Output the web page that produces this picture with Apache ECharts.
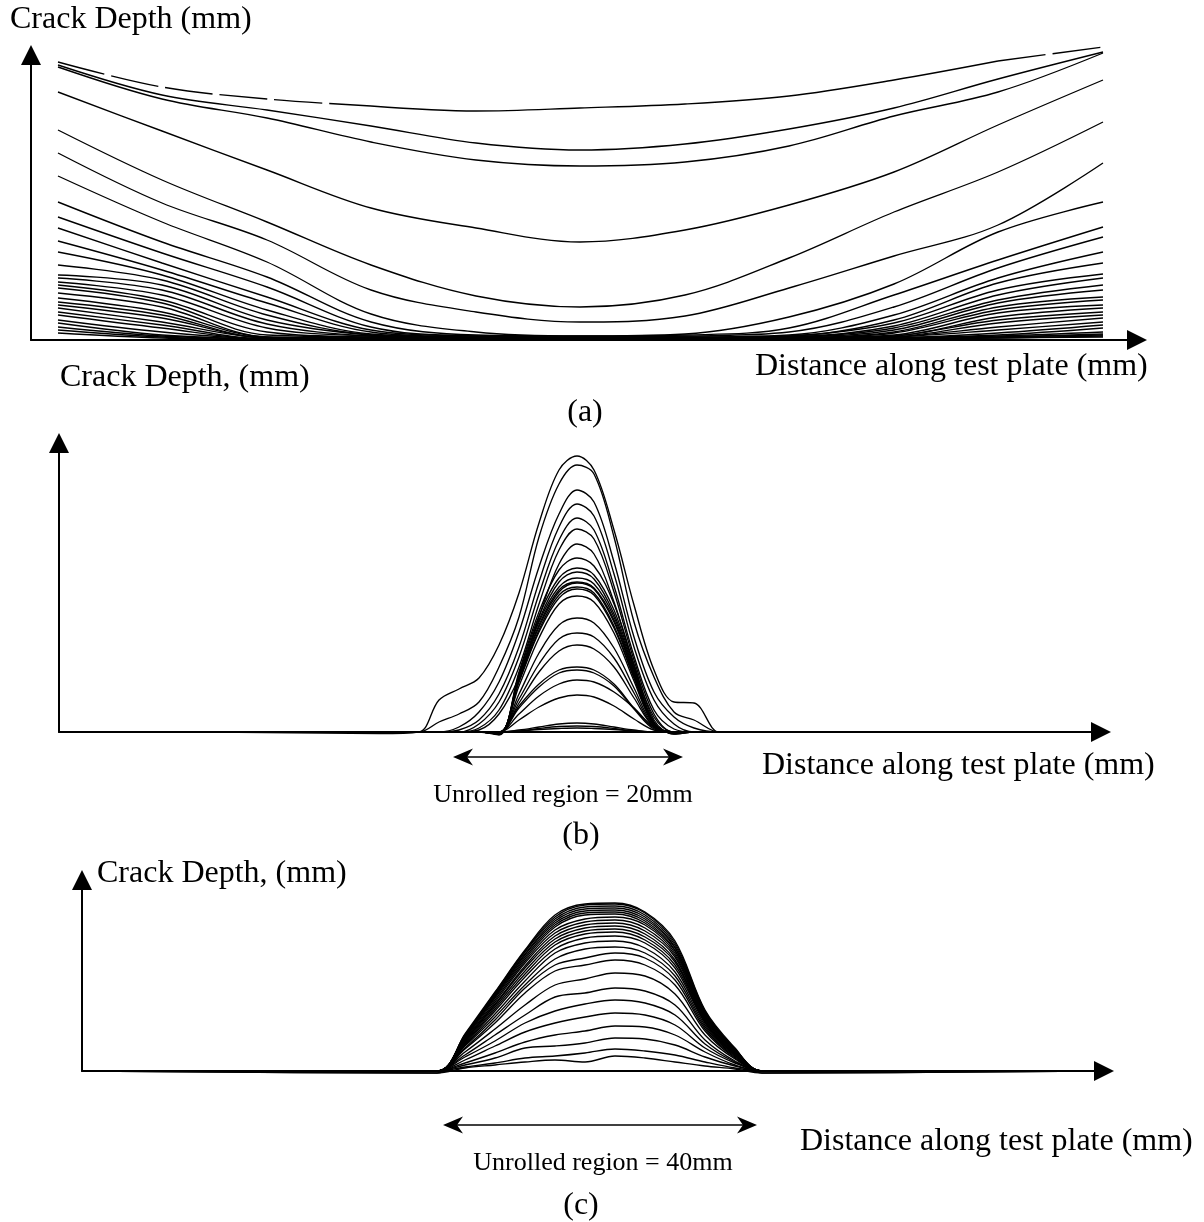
<!DOCTYPE html>
<html><head><meta charset="utf-8">
<script src="https://cdn.jsdelivr.net/npm/echarts@6/dist/echarts.min.js"></script>
<style>html,body{margin:0;padding:0;background:#fff}#c{width:1204px;height:1222px}</style>
</head><body><div id="c"></div>
<script>
// ---------- Panel (a): distance (mm) samples and crack-depth curves ----------
const xA = [2.7, 13.1, 23.6, 34.0, 44.5, 54.9, 65.4, 75.8, 86.3, 96.7, 107.2];
const curvesA = [
  [27.8, 25.3, 24.1, 23.4, 22.9, 23.2, 23.6, 24.4, 26.0, 27.9, 29.3],
  [27.5, 24.5, 23.0, 21.4, 19.7, 19.0, 19.6, 21.1, 23.2, 26.1, 28.8],
  [27.3, 24.1, 22.2, 19.8, 18.0, 17.4, 17.8, 19.4, 22.4, 24.8, 28.7],
  [24.8, 20.9, 17.0, 13.2, 11.2, 9.8, 11.0, 13.5, 16.8, 21.5, 26.0],
  [21.0, 16.0, 11.8, 7.5, 4.4, 3.3, 4.5, 8.2, 12.8, 16.8, 21.8],
  [18.7, 13.7, 10.0, 5.0, 2.8, 1.8, 2.4, 5.2, 8.4, 11.5, 17.7],
  [16.4, 11.8, 7.8, 2.6, 0.8, 0.4, 0.6, 2.3, 5.6, 10.8, 13.8],
  [13.8, 9.8, 6.3, 1.8, 0.5, 0.4, 0.5, 1.2, 4.5, 8.0, 11.3],
  [12.3, 8.7, 5.3, 1.3, 0.4, 0.3, 0.4, 0.8, 3.3, 7.2, 10.3],
  [11.2, 7.7, 4.3, 1.0, 0.4, 0.3, 0.3, 0.5, 2.5, 6.2, 8.8],
  [9.9, 7.0, 3.7, 0.8, 0.3, 0.2, 0.3, 0.4, 2.0, 5.7, 7.7],
  [8.8, 6.5, 3.0, 0.6, 0.3, 0.2, 0.2, 0.4, 1.7, 5.0, 6.6],
  [7.5, 6.0, 2.5, 0.5, 0.2, 0.2, 0.2, 0.3, 1.4, 4.5, 6.2],
  [6.5, 5.5, 2.0, 0.5, 0.2, 0.1, 0.2, 0.3, 1.2, 4.0, 5.5],
  [6.2, 5.0, 1.6, 0.4, 0.2, 0.1, 0.2, 0.3, 1.0, 3.7, 5.0],
  [5.8, 4.5, 1.2, 0.4, 0.2, 0.1, 0.1, 0.2, 0.8, 3.3, 4.3],
  [5.5, 4.0, 0.8, 0.3, 0.1, 0.1, 0.1, 0.2, 0.7, 3.0, 4.0],
  [5.2, 3.7, 0.5, 0.3, 0.1, 0.1, 0.1, 0.2, 0.5, 2.7, 3.5],
  [4.7, 3.3, 0.3, 0.2, 0.1, 0.1, 0.1, 0.2, 0.4, 2.3, 3.2],
  [4.2, 2.8, 0.3, 0.2, 0.1, 0.0, 0.1, 0.1, 0.4, 2.0, 2.8],
  [3.8, 2.5, 0.2, 0.2, 0.1, 0.0, 0.1, 0.1, 0.3, 1.7, 2.5],
  [3.5, 2.2, 0.2, 0.1, 0.1, 0.0, 0.0, 0.1, 0.3, 1.3, 2.2],
  [3.2, 1.8, 0.2, 0.1, 0.0, 0.0, 0.0, 0.1, 0.3, 1.0, 1.8],
  [2.8, 1.5, 0.1, 0.1, 0.0, 0.0, 0.0, 0.1, 0.2, 0.7, 1.5],
  [2.5, 1.2, 0.1, 0.1, 0.0, 0.0, 0.0, 0.1, 0.2, 0.5, 1.2],
  [2.0, 0.8, 0.1, 0.0, 0.0, 0.0, 0.0, 0.0, 0.2, 0.4, 0.8],
  [1.7, 0.5, 0.1, 0.0, 0.0, 0.0, 0.0, 0.0, 0.1, 0.3, 0.5],
  [1.3, 0.4, 0.1, 0.0, 0.0, 0.0, 0.0, 0.0, 0.1, 0.3, 0.6],
  [1.0, 0.3, 0.0, 0.0, 0.0, 0.0, 0.0, 0.0, 0.1, 0.2, 0.4],
  [0.7, 0.2, 0.0, 0.0, 0.0, 0.0, 0.0, 0.0, 0.1, 0.2, 0.3]
];

// ---------- Panel (b): unrolled region = 20 mm ----------
const xB = [0, 15, 32, 36, 38, 40, 42, 44, 46, 48, 50, 51.8, 53.5, 55.5, 57.5, 59.5, 61.5, 63.5, 66, 68, 85, 103];
const curvesB = [
  [0,0,-0.15,0,3.2,4.3,5.4,8.7,13.9,20.9,26.2,27.6,26.2,20.2,12.7,6.2,3.0,2.9,0,0,0,0],
  [0,0,0,0,1.0,1.8,3.0,6.5,11.5,19.5,24.8,26.7,25.8,19.5,11.0,5.5,2.0,1.2,0,0,0,0],
  [0,0,0,0,0,0.5,2.0,5.0,10.0,16.5,21.8,24.2,23.0,17.0,9.5,4.0,1.5,0.4,0,0,0,0],
  [0,0,0,0,0,0.2,1.2,3.8,8.5,15.0,20.5,22.8,21.6,15.8,8.5,3.2,0.8,0,0,0,0,0],
  [0,0,0,0,0,0,0.8,3.0,7.5,13.8,19.2,21.4,20.2,14.6,7.6,2.2,0.3,0,0,0,0,0],
  [0,0,0,0,0,0,0.4,2.2,6.5,12.8,18.2,20.3,19.3,14.0,7.2,1.8,0,0,0,0,0,0],
  [0,0,0,0,0,0,0.2,1.8,5.5,11.5,16.8,18.8,17.8,13.0,6.6,1.5,0,0,0,0,0,0],
  [0,0,0,0,0,0,0,-0.3,6.0,12.0,16.2,17.4,16.6,12.8,6.8,1.2,-0.2,0,0,0,0,0],
  [0,0,0,0,0,0,0,-0.2,5.8,11.6,15.4,16.4,15.7,12.2,6.4,1.0,-0.2,0,0,0,0,0],
  [0,0,0,0,0,0,0,-0.2,5.6,11.2,15.0,16.0,15.3,11.8,6.2,0.9,-0.1,0,0,0,0,0],
  [0,0,0,0,0,0,0,-0.2,5.5,11.0,14.5,15.4,14.8,11.5,6.0,0.9,-0.1,0,0,0,0,0],
  [0,0,0,0,0,0,0,-0.2,5.4,10.7,14.2,15.0,14.4,11.2,5.8,0.8,-0.1,0,0,0,0,0],
  [0,0,0,0,0,0,0,-0.1,5.2,10.5,14.0,14.9,14.3,11.0,5.7,0.8,-0.1,0,0,0,0,0],
  [0,0,0,0,0,0,0,-0.1,5.1,10.2,13.7,14.5,13.9,10.6,5.5,0.8,0,0,0,0,0,0],
  [0,0,0,0,0,0,0,-0.1,5.0,10.0,13.4,14.3,13.7,10.4,5.4,0.7,0,0,0,0,0,0],
  [0,0,0,0,0,0,0,-0.1,4.6,9.4,12.8,13.6,13.0,9.9,5.1,0.7,0,0,0,0,0,0],
  [0,0,0,0,0,0,0,0,3.8,7.9,10.7,11.4,10.9,8.4,4.4,0.6,0,0,0,0,0,0],
  [0,0,0,0,0,0,0,0,3.3,6.8,9.3,9.9,9.5,7.4,3.9,0.5,0,0,0,0,0,0],
  [0,0,0,0,0,0,0,0,2.9,6.0,8.1,8.7,8.3,6.5,3.4,0.5,0,0,0,0,0,0],
  [0,0,0,0,0,0,0,0,2.6,4.8,6.2,6.5,6.2,4.8,2.4,0.4,0,0,0,0,0,0],
  [0,0,0,0,0,0,0,0,2.4,4.5,5.9,6.2,5.9,4.6,2.3,0.3,0,0,0,0,0,0],
  [0,0,0,0,0,0,0,0,1.8,3.6,4.8,5.2,5.0,4.0,2.4,0.5,0,0,0,0,0,0],
  [0,0,0,0,0,0,0,0,1.2,2.5,3.4,3.7,3.5,2.6,1.3,0.2,0,0,0,0,0,0],
  [0,0,0,0,0,0,0,0,0.2,0.5,0.8,0.9,0.8,0.5,0.2,0,0,0,0,0,0,0],
  [0,0,0,0,0,0,0,0,0.1,0.35,0.55,0.6,0.55,0.35,0.1,0,0,0,0,0,0,0],
  [0,0,0,0,0,0,0,0,0.1,0.25,0.35,0.4,0.35,0.25,0.1,0,0,0,0,0,0,0]
];

// ---------- Panel (c): unrolled region = 40 mm ----------
const xC = [0, 35.5, 38.3, 41.3, 44.3, 47.3, 50.3, 53.3, 56.3, 59.3, 62.3, 65.3, 68.0, 101.2];
const curvesC = [
  [0,-0.2,3.7,7.9,12.1,15.6,16.7,16.8,15.9,13.0,6.1,2.3,-0.2,0],
  [0,0,3.6,7.8,12.0,15.4,16.6,16.7,15.8,12.8,6.0,2.2,0,0],
  [0,0,3.6,7.7,11.9,15.2,16.4,16.5,15.6,12.6,5.9,2.2,0,0],
  [0,0,3.5,7.6,11.7,15.0,16.2,16.3,15.4,12.4,5.8,2.1,0,0],
  [0,0,3.5,7.5,11.6,14.8,16.0,16.1,15.2,12.3,5.7,2.1,0,0],
  [0,0,3.4,7.4,11.4,14.6,15.8,15.9,15.0,12.1,5.6,2.0,0,0],
  [0,0,3.4,7.3,11.2,14.4,15.6,15.7,14.8,12.0,5.5,2.0,0,0],
  [0,0,3.3,7.1,11.0,14.1,15.2,15.4,14.6,11.8,5.4,1.9,0,0],
  [0,0,3.2,6.9,10.8,13.8,14.9,15.1,14.3,11.6,5.3,1.9,0,0],
  [0,0,3.1,6.7,10.5,13.5,14.6,14.8,14.0,11.4,5.2,1.8,0,0],
  [0,0,3.0,6.6,10.3,13.2,14.3,14.5,13.7,11.1,5.1,1.8,0,0],
  [0,0,2.9,6.4,10.0,12.9,14.0,14.2,13.4,10.9,5.0,1.7,0,0],
  [0,0,2.8,6.2,9.7,12.6,13.7,13.9,13.1,10.6,4.9,1.7,0,0],
  [0,0,2.7,6.0,9.4,12.2,13.3,13.5,12.8,10.3,4.8,1.6,0,0],
  [0,0,2.6,5.7,9.0,11.8,12.8,13.0,12.3,9.9,4.6,1.6,0,0],
  [0,0,2.5,5.4,8.6,11.2,12.2,12.4,11.8,9.5,4.4,1.5,0,0],
  [0,0,2.3,5.1,8.3,10.6,11.3,11.8,11.3,9.1,4.2,1.4,0,0],
  [0,0,2.2,4.8,7.8,10.0,10.6,11.1,10.6,8.6,4.0,1.3,0,0],
  [0,0,1.9,4.2,6.6,8.6,9.2,9.8,9.5,7.7,3.6,1.2,0,0],
  [0,0,1.6,3.6,5.6,7.4,7.8,8.3,8.0,6.6,3.1,1.0,0,0],
  [0,0,1.4,3.0,4.8,6.0,6.7,7.1,6.8,5.6,2.7,0.9,0,0],
  [0,0,1.1,2.5,3.9,4.8,5.4,5.8,5.6,4.6,2.3,0.8,0,0],
  [0,0,0.8,1.8,2.9,3.6,4.0,4.5,4.4,3.6,1.9,0.6,0,0],
  [0,0,0.6,1.3,2.3,2.5,2.8,3.3,3.2,2.6,1.4,0.5,0,0],
  [0,0,0.4,0.8,1.3,1.5,1.8,2.2,2.0,1.6,0.9,0.3,0,0],
  [0,-0.2,0.3,0.6,0.9,1.1,0.9,1.5,1.3,0.9,0.5,0.2,-0.2,0]
];

// unrolled-region double arrows: [start, end, level] in each panel's data units
const arrowB = [39.4, 62.4, -2.5];
const arrowC = [36.1, 67.5, -5.4];

const SERIF = '"Liberation Serif", "Times New Roman", serif';
function line(xs, ys, gi, extra) {
  return Object.assign({
    type: 'line', xAxisIndex: gi, yAxisIndex: gi,
    data: xs.map((x, i) => [x, ys[i]]),
    symbol: 'none', smooth: 0.35, clip: false, silent: true,
    lineStyle: { color: '#000', width: 1.35 }, animation: false
  }, extra || {});
}

const series = [];
const dashed = { lineStyle: { color: '#000', width: 1.35, type: [48, 7] } };
series.push(line(xA.slice(0, 4), curvesA[0].slice(0, 4), 0, dashed));
series.push(line(xA.slice(3, 10), curvesA[0].slice(3, 10), 0));
series.push(line(xA.slice(9), curvesA[0].slice(9), 0, dashed));
curvesA.slice(1).forEach(c => series.push(line(xA, c, 0)));
curvesB.forEach(c => series.push(line(xB, c, 1)));
curvesC.forEach(c => series.push(line(xC, c, 2)));

function axis(gi, max) {
  return {
    gridIndex: gi, type: 'value', min: 0, max: max,
    axisLine: { show: true, onZero: false, symbol: ['none', 'triangle'], symbolSize: [20, 20],
      lineStyle: { color: '#000', width: 2 } },
    axisTick: { show: false }, axisLabel: { show: false }, splitLine: { show: false }
  };
}
function txt(x, y, s, size, align) {
  return { type: 'text', x: x, y: y, silent: true, z: 10,
    style: { text: s, font: size + 'px ' + SERIF, fill: '#000', align: align || 'left', verticalAlign: 'middle' } };
}

const chart = echarts.init(document.getElementById('c'), null, { renderer: 'canvas' });
chart.setOption({
  animation: false,
  backgroundColor: '#fff',
  grid: [
    { left: 31, right: 67, top: 55, bottom: 882, containLabel: false },
    { left: 59, right: 103, top: 443, bottom: 490, containLabel: false },
    { left: 82, right: 100, top: 880, bottom: 151, containLabel: false }
  ],
  xAxis: [axis(0, 110.6), axis(1, 104.2), axis(2, 102.2)],
  yAxis: [axis(0, 28.5), axis(1, 28.9), axis(2, 19.1)],
  series: series
});

// double arrows placed through the axes' scales
function dblArrow(gi, a) {
  const p1 = chart.convertToPixel({ xAxisIndex: gi, yAxisIndex: gi }, [a[0], a[2]]);
  const p2 = chart.convertToPixel({ xAxisIndex: gi, yAxisIndex: gi }, [a[1], a[2]]);
  const y = p1[1], L = 20, H = 8.5, N = 6;
  return [
    { type: 'line', silent: true, shape: { x1: p1[0] + 6, y1: y, x2: p2[0] - 6, y2: y },
      style: { stroke: '#000', lineWidth: 1.6 } },
    { type: 'polygon', silent: true, shape: { points: [[p1[0], y], [p1[0] + L, y - H], [p1[0] + L - N, y], [p1[0] + L, y + H]] },
      style: { fill: '#000' } },
    { type: 'polygon', silent: true, shape: { points: [[p2[0], y], [p2[0] - L, y - H], [p2[0] - L + N, y], [p2[0] - L, y + H]] },
      style: { fill: '#000' } }
  ];
}

chart.setOption({
  graphic: [
    txt(10, 20, 'Crack Depth (mm)', 32),
    txt(755, 367, 'Distance along test plate (mm)', 32),
    txt(585, 413, '(a)', 32, 'center'),
    txt(60, 378, 'Crack Depth, (mm)', 32),
    txt(762, 766, 'Distance along test plate (mm)', 32),
    txt(563, 795, 'Unrolled region = 20mm', 26, 'center'),
    txt(581, 836, '(b)', 32, 'center'),
    txt(97, 874, 'Crack Depth, (mm)', 32),
    txt(800, 1142, 'Distance along test plate (mm)', 32),
    txt(603, 1163, 'Unrolled region = 40mm', 26, 'center'),
    txt(581, 1206, '(c)', 32, 'center')
  ].concat(dblArrow(1, arrowB), dblArrow(2, arrowC))
});
</script></body></html>
